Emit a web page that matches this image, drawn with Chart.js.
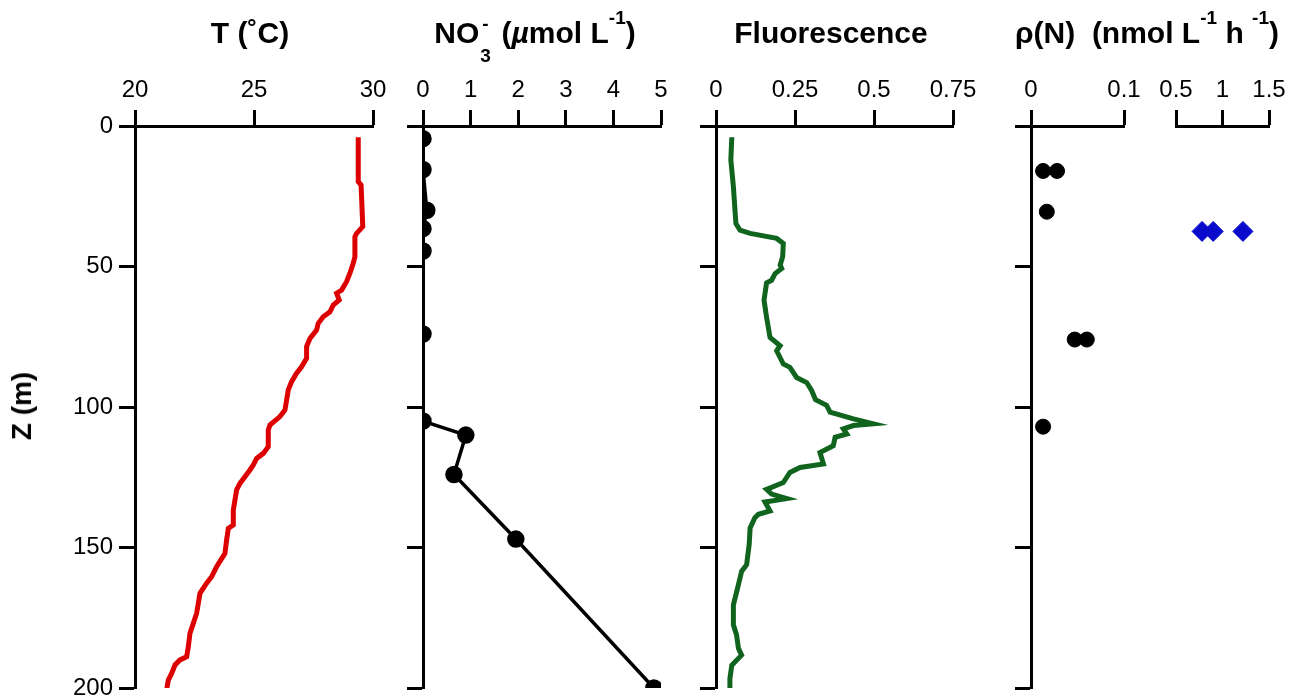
<!DOCTYPE html>
<html>
<head>
<meta charset="utf-8">
<script src="https://cdn.jsdelivr.net/npm/chart.js@4.4.1/dist/chart.umd.min.js"></script>
<style>
  html,body{margin:0;padding:0;background:#fff;overflow:hidden}
  #wrap{position:relative;width:1302px;height:699px;overflow:hidden}
  #wrap canvas{position:absolute;left:0;top:0}
  .ttl{position:absolute;top:16px;width:340px;text-align:center;font:bold 30px 'Liberation Sans',Arial,Helvetica,sans-serif;line-height:34px;color:#000;white-space:nowrap}
  .sp{position:relative;font-size:19px;top:-19px}
  .st{position:relative;display:inline-block;width:14px;height:1px}
  .st .a{position:absolute;left:3px;top:-28px;font-size:19px;line-height:19px}
  .st .b{position:absolute;left:1px;top:4px;font-size:19px;line-height:19px}
  #zlab{position:absolute;left:22px;top:406px;transform:translate(-50%,-50%) rotate(-90deg);font:bold 28px 'Liberation Sans',Arial,Helvetica,sans-serif;white-space:nowrap}
</style>
</head>
<body>
<div id="wrap">
  <canvas id="cT" width="1302" height="720"></canvas>
  <canvas id="cN" width="1302" height="720"></canvas>
  <canvas id="cF" width="1302" height="720"></canvas>
  <canvas id="cR1" width="1302" height="720"></canvas>
  <canvas id="cR2" width="1302" height="720"></canvas>
  <div class="ttl" style="left:80px">T (˚C)</div>
  <div class="ttl" style="left:365px">NO<span class="st"><span class="a">-</span><span class="b">3</span></span> (<i>µ</i>mol L<span class="sp">-1</span>)</div>
  <div class="ttl" style="left:661px">Fluorescence</div>
  <div class="ttl" style="left:977px">ρ(N)&nbsp; (nmol L<span class="sp">-1</span> h <span class="sp">-1</span>)</div>
  <div id="zlab">Z (m)</div>
</div>
<script>
// depth axis shared by all panels
const depthTicks=[0,50,100,150,200];

// temperature profile
const tempDepth=[4.0,19.8,21.0,35.8,38.2,39.4,46.5,48.9,52.4,55.4,58.4,59.5,61.9,63.7,66.1,67.9,70.2,72.6,75.6,78.5,82.7,85.7,88.0,91.0,93.9,97.5,101.1,103.4,106.4,108.2,114.1,116.5,118.3,120.6,122.4,127.2,129.5,133.1,136.7,142.0,143.2,147.3,152.1,156.8,160.4,162.7,166.3,169.9,173.4,177.0,180.5,185.3,188.9,190.0,191.8,194.8,197.2,200.7];
const tempVal=[29.38,29.38,29.50,29.57,29.31,29.24,29.24,29.17,29.03,28.89,28.68,28.47,28.58,28.33,28.19,27.91,27.70,27.63,27.35,27.21,27.21,27.00,26.79,26.58,26.44,26.37,26.30,26.09,25.67,25.60,25.60,25.39,25.11,24.97,24.83,24.41,24.27,24.20,24.13,24.13,23.92,23.85,23.78,23.43,23.22,23.01,22.73,22.66,22.59,22.45,22.31,22.24,22.17,21.89,21.68,21.54,21.40,21.33];
const tempTicks=[20,25,30];

// nitrate bottle samples
const no3Depth=[4.5,15.5,30,36.5,44.5,74,105,110,124,147,200];
const no3Val=[0,0,0.08,0,0,0,0,0.9,0.65,1.95,4.85];
const no3Ticks=[0,1,2,3,4,5];

// fluorescence profile
const fluoDepth=[4.0,12.1,21.6,34.7,37.1,38.2,40.0,41.8,46.5,49.5,50.7,52.5,54.9,55.8,62.0,68.0,75.2,78.2,80.0,84.7,85.9,89.5,91.3,94.2,97.4,99.4,101.8,104.2,106.0,106.6,107.8,109.6,110.8,113.8,116.2,120.3,121.5,123.3,126.9,129.3,131.0,132.6,133.8,137.0,138.2,139.4,143.0,148.9,156.1,158.5,163.2,170.4,177.5,181.1,185.9,188.3,191.9,196.7,200.5];
const fluoVal=[0.050,0.047,0.055,0.063,0.076,0.108,0.192,0.213,0.211,0.203,0.208,0.187,0.176,0.160,0.152,0.160,0.171,0.203,0.192,0.213,0.234,0.255,0.287,0.303,0.315,0.350,0.361,0.435,0.498,0.435,0.403,0.414,0.377,0.371,0.329,0.340,0.266,0.234,0.213,0.160,0.176,0.224,0.155,0.171,0.134,0.123,0.108,0.105,0.097,0.081,0.071,0.055,0.055,0.065,0.071,0.081,0.050,0.044,0.044];
const fluoTicks=[0,0.25,0.5,0.75];

// N2 fixation rates, low range (circles) and high range (diamonds)
const rhoLowDepth=[16,16,30.5,76,76,107];
const rhoLowVal=[0.013,0.028,0.017,0.047,0.060,0.013];
const rhoLowTicks=[0,0.1];
const rhoHighDepth=[37.5,37.5,37.5];
const rhoHighVal=[0.78,0.90,1.22];
const rhoHighTicks=[0.5,1,1.5];

const FONT="'Liberation Sans',Arial,Helvetica,sans-serif";
const CW=1302,CH=720,TOP=126,BOT=688;

function pts(xs,ys){return xs.map((v,i)=>({x:v,y:ys[i]}));}

function panel(id,o){
  const yShow=o.yShow!==false;
  const yw=!yShow?0:o.yLabels?o.left:16;
  return new Chart(document.getElementById(id),{
    type:'scatter',
    data:{datasets:o.datasets},
    options:{
      responsive:false,animation:false,events:[],
      layout:{padding:{left:o.left-yw,top:0,right:CW-o.right,bottom:CH-BOT}},
      plugins:{legend:{display:false},tooltip:{enabled:false}},
      scales:{
        x:{type:'linear',position:'top',min:o.min,max:o.max,
          afterBuildTicks:s=>{s.ticks=o.ticks.map(v=>({value:v}));},
          afterFit:s=>{s.height=TOP;},
          grid:{drawOnChartArea:false,tickLength:16,tickWidth:3,tickColor:'#000'},
          border:{color:'#000',width:3},
          ticks:{color:'#000',font:{size:24,family:FONT},padding:5,maxRotation:0,autoSkip:false,callback:v=>String(v)}},
        y:{type:'linear',position:'left',reverse:true,min:0,max:200,display:yShow,
          afterBuildTicks:s=>{s.ticks=depthTicks.map(v=>({value:v}));},
          afterFit:s=>{s.width=yw;},
          grid:{drawOnChartArea:false,tickLength:16,tickWidth:3,tickColor:'#000'},
          border:{color:'#000',width:3},
          ticks:{display:!!o.yLabels,color:'#000',font:{size:24,family:FONT},padding:6,autoSkip:false}}
      }
    }
  });
}

panel('cT',{left:135,right:373,min:20,max:30,ticks:tempTicks,yLabels:true,
  datasets:[{data:pts(tempVal,tempDepth),showLine:true,borderColor:'#dc0000',borderWidth:5,pointRadius:0,tension:0}]});

panel('cN',{left:423,right:661,min:0,max:5,ticks:no3Ticks,
  datasets:[{data:pts(no3Val,no3Depth),showLine:true,borderColor:'#000',borderWidth:3.5,pointRadius:7,pointBackgroundColor:'#000',pointBorderColor:'#000',tension:0}]});

panel('cF',{left:716,right:953,min:0,max:0.75,ticks:fluoTicks,
  datasets:[{data:pts(fluoVal,fluoDepth),showLine:true,borderColor:'#10641e',borderWidth:5,pointRadius:0,tension:0}]});

panel('cR1',{left:1031,right:1124,min:0,max:0.1,ticks:rhoLowTicks,
  datasets:[{data:pts(rhoLowVal,rhoLowDepth),showLine:false,pointRadius:7.5,pointBackgroundColor:'#000',pointBorderColor:'#000'}]});

panel('cR2',{left:1176,right:1269,min:0.5,max:1.5,ticks:rhoHighTicks,yShow:false,
  datasets:[{data:pts(rhoHighVal,rhoHighDepth),showLine:false,pointStyle:'rectRot',pointRadius:10,pointBackgroundColor:'#0a0acd',pointBorderColor:'#0a0acd'}]});
</script>
</body>
</html>
